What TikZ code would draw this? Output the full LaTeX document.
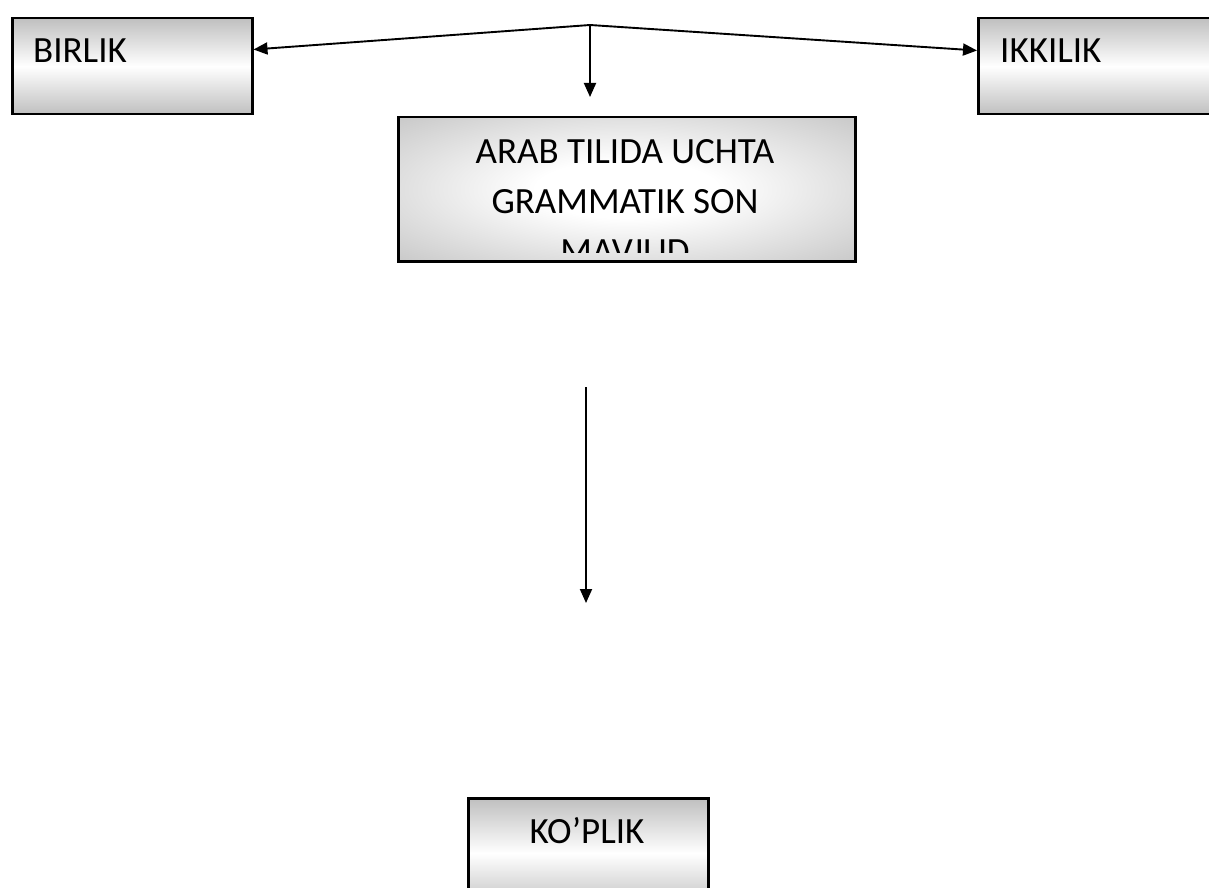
\documentclass[tikz,border=0pt]{standalone}
\usepackage{fontspec}
\setmainfont{Carlito}
\usetikzlibrary{arrows.meta,calc}
\pgfdeclareradialshading{boxrad}{\pgfpoint{0bp}{0bp}}{color(0bp)=(white); color(10bp)=(white); color(40bp)=(gray!50); color(80bp)=(gray!50)}
\tikzset{
  sidebox/.style={draw=black, line width=2.5pt, top color=gray!50, bottom color=gray!50, middle color=white, inner sep=0pt},
  midbox/.style={draw=black, line width=2.5pt, shading=boxrad, inner sep=0pt},
  lbl/.style={font=\fontsize{37}{49}\selectfont, inner sep=0pt},
  conn/.style={line width=1.9pt, -{Triangle[length=14pt,width=12pt]}}
}
\begin{document}
\begin{tikzpicture}[x=1pt,y=-1pt]
\useasboundingbox (0,0) rectangle (1209,888);
\clip (0,0) rectangle (1209,888);
% boxes
\node[sidebox, minimum width=240pt, minimum height=96pt, anchor=north west] (birlik) at (11,17) {};
\node[sidebox, minimum width=263pt, minimum height=96pt, anchor=north west] (ikkilik) at (977,17) {};
\node[midbox, minimum width=457pt, minimum height=144pt, anchor=north west] (arab) at (397,116) {};
\node[sidebox, minimum width=240pt, minimum height=110pt, anchor=north west] (koplik) at (467,797) {};
% texts
\node[lbl, anchor=base west] (tbirlik) at (33,63) {BIRLIK};
\node[lbl, anchor=base west] (tikkilik) at (1000,63) {IKKILIK};
\node[lbl, anchor=base] (tkoplik) at (587,843) {KO’PLIK};
\begin{scope}
  \clip (arab.north west) rectangle ($(arab.south east)+(0,-10)$);
  \node[lbl, anchor=base] (tarab1) at (625,163) {ARAB TILIDA UCHTA};
  \node[lbl, anchor=base] (tarab2) at (625,213) {GRAMMATIK SON};
  \node[lbl, anchor=base] (tarab3) at (625,263) {MAVJUD};
\end{scope}
% connectors
\coordinate (apex) at (590,25);
\coordinate (arabtop) at (590,97);
\coordinate (vtop) at (586,387);
\coordinate (vbot) at (586,603);
\draw[conn] (apex) -- ($(birlik.north east)!0.33!(birlik.south east)$);
\draw[conn] (apex) -- ($(ikkilik.north west)!0.34!(ikkilik.south west)$);
\draw[conn] (apex) -- (arabtop);
\draw[conn] (vtop) -- (vbot);
\end{tikzpicture}
\end{document}
